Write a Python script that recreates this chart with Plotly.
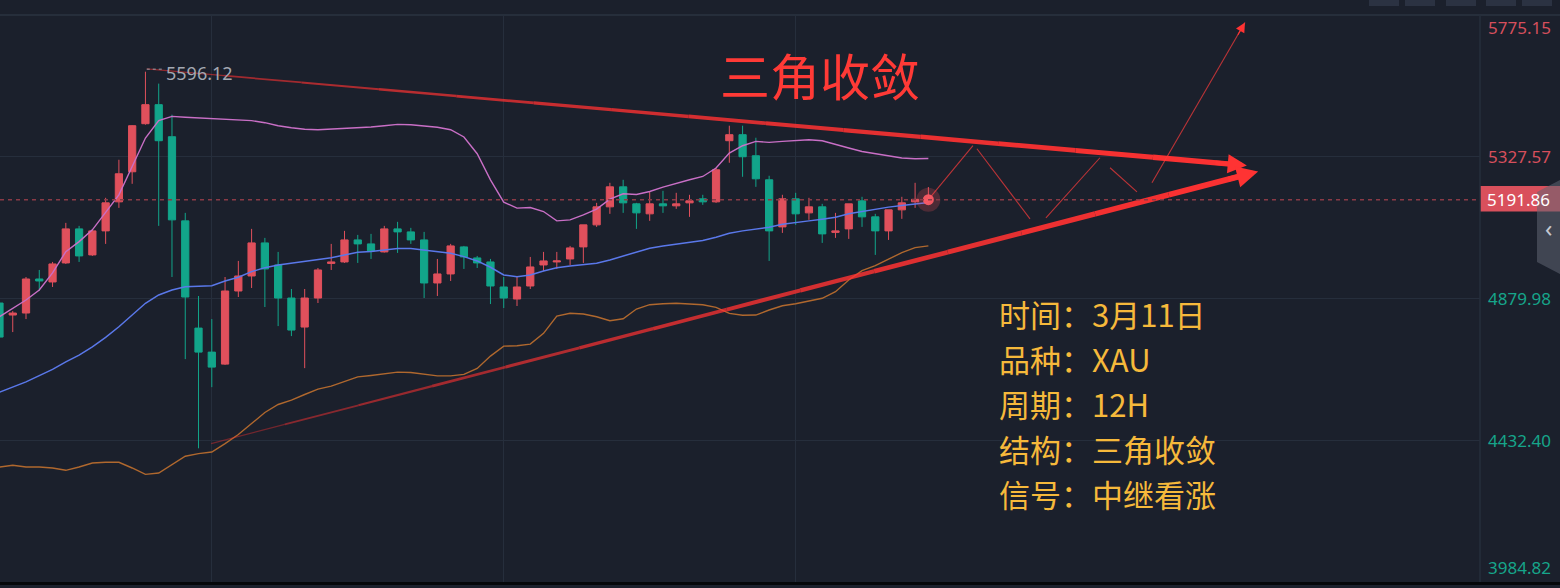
import plotly.graph_objects as go

# ---------------- data (12H XAU candles) ----------------
idx = list(range(71))
opens = [4865.7, 4827.8, 4834.1, 4941.6, 4932.2, 4992.3, 5099.8, 5017.6, 5093.5, 5185.2,
         5280.1, 5431.9, 5492.0, 5390.8, 5125.1, 4786.6, 4710.7, 4672.8, 4903.7, 4951.1,
         5055.5, 4985.9, 4881.5, 4789.8, 4881.5, 4990.7, 4995.4, 5065.0, 5052.4, 5027.1,
         5099.8, 5090.3, 5065.0, 4929.0, 4957.5, 5042.9, 5008.1, 4995.4, 4916.4, 4878.4,
         4919.5, 4985.9, 4995.4, 5004.9, 5042.9, 5112.5, 5169.4, 5232.6, 5178.9, 5147.3,
         5178.9, 5172.6, 5182.0, 5194.7, 5185.2, 5378.2, 5397.2, 5330.7, 5254.8, 5106.1,
         5194.7, 5150.4, 5169.4, 5088.7, 5099.8, 5188.4, 5137.8, 5093.5, 5159.9, 5185.2,
         5188.0]
highs = [4884.7, 4840.4, 4947.9, 4970.1, 4995.4, 5118.8, 5109.3, 5096.6, 5197.9, 5318.1,
         5427.0, 5596.12, 5558.5, 5460.4, 5150.4, 4887.9, 4815.1, 4947.9, 4998.6, 5099.8,
         5071.4, 5027.1, 4910.0, 4910.0, 4976.4, 5052.4, 5093.5, 5080.8, 5084.0, 5109.3,
         5122.0, 5103.0, 5090.3, 5004.9, 5052.4, 5046.0, 5014.4, 5004.9, 4947.9, 4947.9,
         5011.2, 5027.1, 5027.1, 5046.0, 5112.5, 5182.0, 5245.3, 5254.8, 5182.0, 5216.8,
         5220.0, 5213.7, 5207.4, 5207.4, 5292.8, 5425.6, 5425.6, 5387.6, 5267.5, 5207.4,
         5213.7, 5197.9, 5178.9, 5150.4, 5178.9, 5201.1, 5147.3, 5159.9, 5201.1, 5245.3,
         5232.0]
lows = [4748.7, 4774.0, 4815.1, 4903.7, 4916.4, 4989.1, 4995.4, 5014.4, 5052.4, 5166.2,
        5242.1, 5428.8, 5109.3, 4947.9, 4688.6, 4407.0, 4600.0, 4670.0, 4884.7, 4913.2,
        4853.1, 4792.9, 4761.3, 4660.1, 4865.7, 4970.1, 4992.3, 4992.3, 5004.9, 5025.0,
        5023.9, 5052.4, 4881.5, 4887.9, 4935.3, 4973.3, 4976.4, 4862.5, 4849.9, 4856.2,
        4910.0, 4967.0, 4973.3, 4985.9, 4992.3, 5106.1, 5147.3, 5150.4, 5099.8, 5125.1,
        5150.4, 5163.1, 5137.8, 5175.7, 5182.0, 5308.6, 5264.3, 5232.6, 4998.6, 5087.1,
        5112.5, 5128.3, 5055.5, 5071.4, 5068.2, 5106.1, 5017.6, 5065.0, 5131.5, 5166.2,
        5183.0]
closes = [4758.2, 4834.1, 4941.6, 4935.3, 4989.1, 5099.8, 5014.4, 5093.5, 5182.0, 5273.8,
          5425.6, 5492.0, 5378.2, 5128.3, 4884.7, 4710.7, 4663.3, 4903.7, 4951.1, 5055.5,
          4973.3, 4881.5, 4780.3, 4881.5, 4970.1, 4995.4, 5065.0, 5052.4, 5030.2, 5099.8,
          5090.3, 5065.0, 4929.0, 4957.5, 5046.0, 5011.2, 4992.3, 4919.5, 4881.5, 4916.4,
          4979.6, 4998.6, 4998.6, 5039.7, 5112.5, 5169.4, 5232.6, 5182.0, 5150.4, 5178.9,
          5172.6, 5178.9, 5188.4, 5185.2, 5286.4, 5397.2, 5327.6, 5257.9, 5093.5, 5194.7,
          5147.3, 5169.4, 5084.0, 5093.5, 5178.9, 5137.8, 5093.5, 5159.9, 5182.0, 5193.1,
          5191.86]

bb_upper = [4822.4, 4849.9, 4875.2, 4906.9, 4960.6, 5028.0, 5059.6, 5096.7, 5150.4, 5207.4,
            5296.9, 5386.7, 5441.5, 5455.1, 5452.5, 5450.0, 5447.8, 5446.2, 5444.6, 5441.5,
            5435.1, 5425.6, 5419.3, 5414.6, 5413.0, 5414.6, 5418.4, 5419.9, 5421.5, 5425.6,
            5429.8, 5428.8, 5425.6, 5420.9, 5413.0, 5389.9, 5337.1, 5254.8, 5184.3, 5165.3,
            5167.2, 5154.6, 5125.1, 5128.3, 5144.1, 5162.1, 5193.8, 5210.5, 5208.3, 5217.8,
            5231.7, 5244.4, 5254.8, 5265.3, 5291.8, 5339.3, 5362.4, 5376.0, 5372.8, 5376.0,
            5378.2, 5381.4, 5378.2, 5367.8, 5355.1, 5344.3, 5337.1, 5330.7, 5323.5, 5321.2,
            5322.2]
bb_mid = [4584.2, 4600.0, 4616.8, 4636.4, 4656.0, 4680.0, 4701.3, 4727.5, 4757.2, 4790.8,
          4827.8, 4864.8, 4891.1, 4906.9, 4917.3, 4918.9, 4920.5, 4935.3, 4947.0, 4964.8,
          4977.4, 4986.0, 4991.3, 4996.4, 5004.0, 5009.0, 5017.6, 5026.1, 5028.0, 5033.4,
          5037.5, 5037.5, 5033.4, 5028.0, 5023.0, 5012.2, 4998.6, 4978.7, 4954.3, 4948.9,
          4954.3, 4967.0, 4977.4, 4982.8, 4986.0, 4991.3, 5001.8, 5014.4, 5028.0, 5038.8,
          5046.1, 5051.4, 5056.5, 5062.8, 5073.6, 5086.2, 5093.5, 5098.9, 5105.2, 5114.7,
          5121.0, 5125.1, 5130.5, 5136.8, 5147.3, 5154.6, 5162.1, 5168.5, 5173.5, 5178.9,
          5183.0]
bb_lower = [4347.9, 4353.3, 4347.9, 4347.9, 4344.8, 4337.5, 4347.9, 4360.6, 4362.8, 4362.8,
            4344.8, 4324.8, 4329.0, 4355.5, 4381.8, 4390.3, 4395.4, 4421.9, 4450.4, 4485.2,
            4520.0, 4545.3, 4558.9, 4576.9, 4593.7, 4603.2, 4619.0, 4632.6, 4637.0, 4643.4,
            4647.5, 4646.5, 4641.2, 4635.8, 4635.8, 4640.2, 4659.2, 4698.1, 4729.7, 4730.7,
            4736.1, 4769.9, 4824.6, 4833.2, 4831.0, 4822.4, 4809.8, 4816.1, 4846.8, 4860.4,
            4863.5, 4864.8, 4862.6, 4860.4, 4852.2, 4833.2, 4826.9, 4827.8, 4843.6, 4857.2,
            4863.5, 4872.1, 4880.6, 4901.5, 4938.5, 4967.9, 4983.7, 5004.0, 5024.8, 5040.7,
            5046.1]

last_price = 5191.86
peak_idx, peak_price = 11, 5596.12
axis_labels = ["5775.15", "5327.57", "4879.98", "4432.40", "3984.82"]
axis_values = [5775.15, 5327.57, 4879.98, 4432.40, 3984.82]
grid_prices = [5327.57, 4879.98, 4432.40]
grid_idx = [16, 38, 60]

# drawn pattern: converging triangle lines (start -> arrow tip)
upper_trend_x, upper_trend_y = [11.1, 94.0], [5605.0, 5300.0]
lower_trend_x, lower_trend_y = [15.95, 94.85], [4422.0, 5281.0]
# thin projected zig-zag path segments
zig_x0 = [70.0, 73.66, 78.86, 83.69, 86.85]
zig_y0 = [5192.0, 5352.9, 5134.6, 5292.8, 5245.3]
zig_x1 = [73.36, 77.66, 82.93, 85.72, 93.86]
zig_y1 = [5362.4, 5131.4, 5324.4, 5216.8, 5751.4]

title_text = "三角收敛"
info_lines = ["时间：3月11日", "品种：XAU", "周期：12H", "结构：三角收敛", "信号：中继看涨"]

# ---------------- styling ----------------
BG = "#1b202c"
GRID = "#262e3c"
RED = "#e0505c"
GREEN = "#12a58a"
TREND = "#ff3333"
CJK = "Noto Sans CJK SC"
NUM = "Noto Sans, Open Sans, sans-serif"

PLOT_W = 1480.0
PLOT_H = 567.0
X0, X1 = 0.04, 0.04 + PLOT_W / 13.27
Y0, Y1 = 3984.82, 5775.15


def py(px_from_top):
    """paper y from a pixel row (0 = top of page)."""
    return (582.0 - px_from_top) / PLOT_H


fig = go.Figure()

fig.add_trace(go.Candlestick(
    x=idx, open=opens, high=highs, low=lows, close=closes,
    increasing=dict(line=dict(color=RED, width=1), fillcolor=RED),
    decreasing=dict(line=dict(color=GREEN, width=1), fillcolor=GREEN),
    whiskerwidth=0, hoverinfo="skip", showlegend=False,
))

fig.add_trace(go.Scatter(x=idx, y=bb_upper, mode="lines",
                         line=dict(color="#c96fc6", width=1.4), hoverinfo="skip", showlegend=False))
fig.add_trace(go.Scatter(x=idx, y=bb_mid, mode="lines",
                         line=dict(color="#5a78ea", width=1.5), hoverinfo="skip", showlegend=False))
fig.add_trace(go.Scatter(x=idx, y=bb_lower, mode="lines",
                         line=dict(color="#b0682e", width=1.4), hoverinfo="skip", showlegend=False))


def tapered(xs, ys, w0, w1, a0, a1, t_end=1.0, n=14):
    for k in range(n):
        t0 = k / n * t_end
        t1 = (k + 1) / n * t_end
        tm = (t0 + t1) / 2
        xa = xs[0] + (xs[1] - xs[0]) * t0
        xb = xs[0] + (xs[1] - xs[0]) * t1
        ya = ys[0] + (ys[1] - ys[0]) * t0
        yb = ys[0] + (ys[1] - ys[0]) * t1
        w = w0 + (w1 - w0) * min(1.0, tm ** 0.8)
        a = a0 + (a1 - a0) * min(1.0, tm ** 0.6)
        fig.add_trace(go.Scatter(x=[xa, xb], y=[ya, yb], mode="lines",
                                 line=dict(color=f"rgba(255,50,50,{a:.2f})", width=w),
                                 hoverinfo="skip", showlegend=False))


tapered(upper_trend_x, upper_trend_y, 1.0, 5.5, 0.45, 1.0, t_end=0.985)
tapered(lower_trend_x, lower_trend_y, 1.0, 6.0, 0.30, 1.0, t_end=0.985)

for xa, ya, xb, yb in zip(zig_x0, zig_y0, zig_x1, zig_y1):
    fig.add_trace(go.Scatter(x=[xa, xb], y=[ya, yb], mode="lines",
                             line=dict(color="rgba(255,60,60,0.7)", width=1.1),
                             hoverinfo="skip", showlegend=False))

# glowing last price dot
fig.add_trace(go.Scatter(x=[idx[-1]], y=[last_price], mode="markers",
                         marker=dict(size=24, color="rgba(255,80,90,0.22)"),
                         hoverinfo="skip", showlegend=False))
fig.add_trace(go.Scatter(x=[idx[-1]], y=[last_price], mode="markers",
                         marker=dict(size=11, color="rgba(250,90,100,0.95)"),
                         hoverinfo="skip", showlegend=False))

annotations = []
shapes = []

# arrowheads
for xs, ys, wdt in [(upper_trend_x, upper_trend_y, 4.5), (lower_trend_x, lower_trend_y, 5)]:
    t = 0.97
    annotations.append(dict(x=xs[1], y=ys[1], ax=xs[0] + (xs[1] - xs[0]) * t,
                            ay=ys[0] + (ys[1] - ys[0]) * t, xref="x", yref="y",
                            axref="x", ayref="y", text="", showarrow=True,
                            arrowhead=2, arrowsize=0.85, arrowwidth=wdt, arrowcolor=TREND,
                            standoff=0, startstandoff=0))
annotations.append(dict(x=zig_x1[-1], y=zig_y1[-1], ax=zig_x1[-1] - 0.6,
                        ay=zig_y1[-1] - 0.6 * (zig_y1[-1] - zig_y0[-1]) / (zig_x1[-1] - zig_x0[-1]),
                        xref="x", yref="y", axref="x", ayref="y", text="", showarrow=True,
                        arrowhead=2, arrowsize=1.6, arrowwidth=1.2, arrowcolor=TREND,
                        standoff=0))

# peak label
shapes.append(dict(type="line", xref="x", yref="y", x0=peak_idx + 0.1, x1=peak_idx + 1.25,
                   y0=peak_price + 8, y1=peak_price + 8,
                   line=dict(color="#9aa0ab", width=1, dash="dot")))
annotations.append(dict(x=peak_idx + 1.38, y=peak_price - 4, xref="x", yref="y",
                        text="5596.12", showarrow=False, xanchor="left", yanchor="middle",
                        font=dict(family=NUM, size=18, color="#a3a8b2")))

# title
annotations.append(dict(x=820 / PLOT_W, y=py(74), xref="paper", yref="paper",
                        text=title_text, showarrow=False, xanchor="center", yanchor="middle",
                        font=dict(family=CJK, size=50, color="#ff3a36")))

# info block: one text per line, lines 45 px apart so the boxes do not overlap
for k, line in enumerate(info_lines):
    annotations.append(dict(x=997 / PLOT_W, y=py(313 + 45 * k), xref="paper", yref="paper",
                            text=line, showarrow=False, xanchor="left", yanchor="middle",
                            font=dict(family=CJK, size=31, color="#f6b93b")))

# right axis labels
label_pos = [27, None, None, None, 567]
for lab, val, pos in zip(axis_labels, axis_values, label_pos):
    col = "#d64f5c" if val > last_price else "#16a58a"
    if pos is None:
        annotations.append(dict(x=1 + 6 / PLOT_W, y=val, xref="paper", yref="y", text=lab,
                                showarrow=False, xanchor="left", yanchor="middle",
                                font=dict(family=NUM, size=17, color=col)))
    else:
        annotations.append(dict(x=1 + 6 / PLOT_W, y=py(pos), xref="paper", yref="paper",
                                text=lab, showarrow=False, xanchor="left", yanchor="middle",
                                font=dict(family=NUM, size=17, color=col)))

# last price line and label
shapes.append(dict(type="line", xref="paper", yref="y", x0=0, x1=1, y0=last_price, y1=last_price,
                   line=dict(color="#8a3a46", width=1.3, dash="4px,4px")))
shapes.append(dict(type="rect", xref="paper", yref="paper", x0=1.0, x1=80 / PLOT_W + 1.0,
                   y0=py(211.5), y1=py(186), fillcolor="#d9505c", line=dict(width=0)))
annotations.append(dict(x=1 + 5 / PLOT_W, y=last_price, xref="paper", yref="y",
                        text=f"{last_price:.2f}", showarrow=False, xanchor="left", yanchor="middle",
                        font=dict(family=NUM, size=17, color="#ffffff")))

# side tab
shapes.append(dict(type="path", xref="paper", yref="paper",
                   path=(f"M {1560/PLOT_W} {py(180)} L {1537/PLOT_W} {py(192)} "
                         f"L {1537/PLOT_W} {py(262)} L {1560/PLOT_W} {py(274)} Z"),
                   fillcolor="rgba(95,100,115,0.55)", line=dict(width=0)))
annotations.append(dict(x=1549 / PLOT_W, y=py(227), xref="paper", yref="paper", text="‹",
                        showarrow=False, xanchor="center", yanchor="middle",
                        font=dict(family=NUM, size=24, color="#c4c8d0")))

# frame lines
shapes.append(dict(type="line", xref="paper", yref="paper", x0=0, x1=1560 / PLOT_W, y0=1, y1=1,
                   line=dict(color="#262e3b", width=2)))
shapes.append(dict(type="line", xref="paper", yref="paper", x0=1, x1=1, y0=0, y1=1,
                   line=dict(color="#262e3b", width=1.5)))
shapes.append(dict(type="rect", xref="paper", yref="paper", x0=0, x1=1560 / PLOT_W,
                   y0=py(585), y1=py(582), fillcolor="#05070a", line=dict(width=0)))
# header buttons
for bx0, bx1 in [(1369, 1399), (1405, 1435), (1446, 1476), (1486, 1516), (1522, 1552)]:
    shapes.append(dict(type="rect", xref="paper", yref="paper", x0=bx0 / PLOT_W, x1=bx1 / PLOT_W,
                       y0=py(6), y1=py(-4), fillcolor="#2b3242", line=dict(width=0),
                       layer="above"))

fig.update_layout(
    width=1560, height=588,
    margin=dict(l=0, r=80, t=15, b=6),
    paper_bgcolor=BG, plot_bgcolor=BG,
    showlegend=False,
    boxgap=0.22,
    xaxis=dict(range=[X0, X1], tickvals=grid_idx, showticklabels=False, ticks="",
               showgrid=True, gridcolor=GRID, gridwidth=1, zeroline=False,
               rangeslider=dict(visible=False), fixedrange=True),
    yaxis=dict(range=[Y0, Y1], tickvals=grid_prices, showticklabels=False, ticks="",
               showgrid=True, gridcolor=GRID, gridwidth=1, zeroline=False, fixedrange=True),
    annotations=annotations,
    shapes=shapes,
    hovermode=False,
)

fig.write_html(
    "out.html",
    config={"displayModeBar": False},
    post_script="document.body.style.margin='0';document.body.style.background='#1b202c';"
                "document.body.style.overflow='hidden';",
)
